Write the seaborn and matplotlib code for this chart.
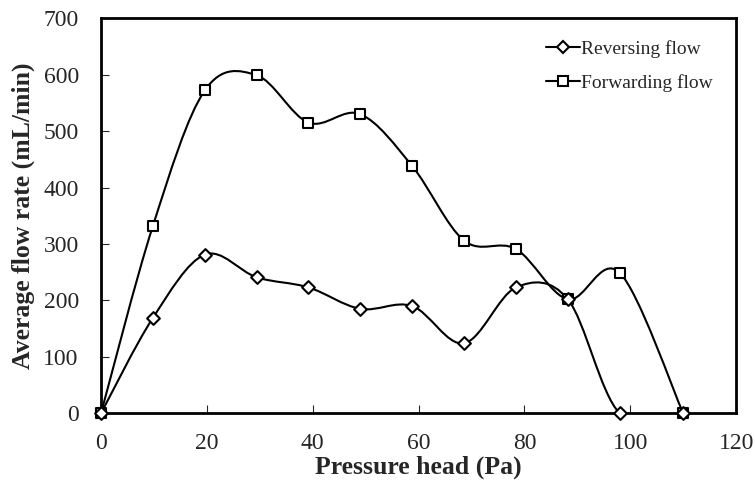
import numpy as np
import matplotlib
matplotlib.use("Agg")
import matplotlib.pyplot as plt
import seaborn as sns
from matplotlib.path import Path
from matplotlib.patches import PathPatch
from matplotlib.lines import Line2D

sns.set_style("ticks")
plt.rcParams['font.family'] = ['Liberation Serif', 'DejaVu Serif']

# data
pressure_rev = [0, 9.8, 19.6, 29.4, 39.2, 49.0, 58.8, 68.6, 78.4, 88.2, 98.0, 110.0]
flow_rev = [0, 169, 281, 241, 223, 185, 190, 124, 223, 202, 0, 0]
pressure_fwd = [0, 9.8, 19.6, 29.4, 39.2, 49.0, 58.8, 68.6, 78.4, 88.2, 98.0, 110.0]
flow_fwd = [0, 332, 572, 599, 515, 530, 438, 306, 291, 202, 249, 0]


def smooth_path(xs, ys):
    # Excel-style smoothed line: cubic Bezier segments through the points
    pts = np.column_stack([xs, ys]).astype(float)
    n = len(pts)
    verts = [pts[0]]
    codes = [Path.MOVETO]
    for i in range(n - 1):
        p0 = pts[max(i - 1, 0)]
        p1 = pts[i]
        p2 = pts[i + 1]
        p3 = pts[min(i + 2, n - 1)]
        verts += [p1 + (p2 - p0) / 6, p2 - (p3 - p1) / 6, p2]
        codes += [Path.CURVE4] * 3
    return Path(verts, codes)


fig = plt.figure(figsize=(7.55, 4.92), dpi=100)
ax = fig.add_axes([0.1338, 0.16, 0.975 - 0.1338, 0.963 - 0.16])

lw = 1.5
for xs, ys in [(pressure_rev, flow_rev), (pressure_fwd, flow_fwd)]:
    ax.add_patch(PathPatch(smooth_path(xs, ys), facecolor='none',
                           edgecolor='black', lw=lw, zorder=2))

sns.scatterplot(x=pressure_fwd, y=flow_fwd, marker='s', s=7.5 ** 2,
                facecolor='white', edgecolor='black', linewidth=1.5,
                zorder=3, ax=ax, clip_on=False)
sns.scatterplot(x=pressure_rev, y=flow_rev, marker='D', s=6.5 ** 2,
                facecolor='white', edgecolor='black', linewidth=1.5,
                zorder=4, ax=ax, clip_on=False)

ax.set_xlim(0, 120)
ax.set_ylim(0, 700)
ax.set_xticks(range(0, 121, 20))
ax.set_yticks(range(0, 701, 100))
ax.tick_params(axis='x', direction='in', length=5.5, width=0.8, labelsize=17, pad=14.5)
ax.tick_params(axis='y', direction='in', length=5.5, width=0.8, labelsize=17, pad=16)
for sp in ax.spines.values():
    sp.set_linewidth(2.0)
    sp.set_color('black')

ax.set_xlabel("Pressure head (Pa)", fontsize=18.5, fontweight='bold')
ax.set_ylabel("Average flow rate (mL/min)", fontsize=18.5, fontweight='bold')
ax.xaxis.set_label_coords(0.5, -0.107)
ax.yaxis.set_label_coords(-0.104, 0.5)

handles = [
    Line2D([], [], color='black', lw=lw, marker='D', markersize=6.0,
           markerfacecolor='white', markeredgecolor='black', markeredgewidth=1.5),
    Line2D([], [], color='black', lw=lw, marker='s', markersize=7.5,
           markerfacecolor='white', markeredgecolor='black', markeredgewidth=1.5),
]
ax.legend(handles, ["Reversing flow", "Forwarding flow"], loc='upper left',
          bbox_to_anchor=(0.70, 0.945), frameon=False, fontsize=14,
          handlelength=1.75, handletextpad=0.05, labelspacing=0.85,
          borderpad=0, borderaxespad=0)

fig.savefig("out.png", dpi=100)
